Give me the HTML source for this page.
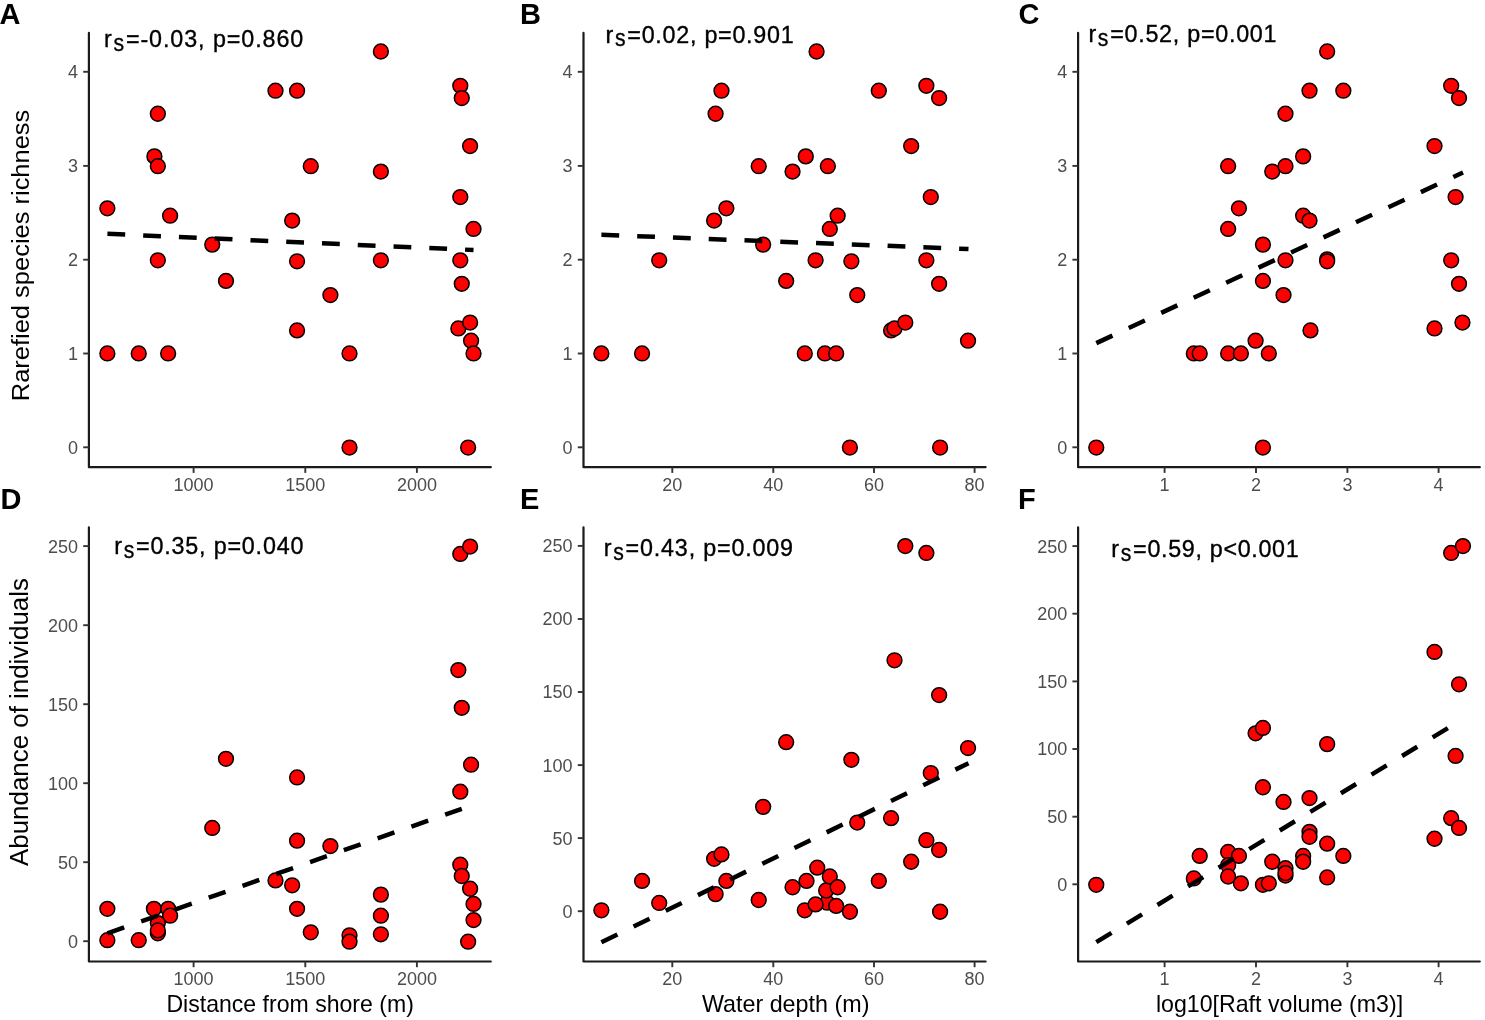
<!DOCTYPE html>
<html><head><meta charset="utf-8"><style>
html,body{margin:0;padding:0;background:#fff;}
svg{display:block;filter:blur(0.45px);}
text{font-family:"Liberation Sans",sans-serif;}
.tk{font-size:18px;fill:#4d4d4d;}
.an{font-size:23.3px;fill:#000;stroke:#000;stroke-width:0.35px;}
.at{font-size:23.4px;fill:#000;}
.pl{font-size:29px;font-weight:bold;fill:#000;}
circle{fill:#ff0000;stroke:#000;stroke-width:1.5;}
.rl{stroke:#000;stroke-width:4.5;stroke-dasharray:17.8 18;fill:none;}
</style></head><body>
<svg width="1485" height="1020" viewBox="0 0 1485 1020">
<rect width="1485" height="1020" fill="#fff"/>
<path d="M88.9 32.9V467.2H490.8" fill="none" stroke="#1a1a1a" stroke-width="2.2" stroke-linecap="round" stroke-linejoin="round"/>
<line x1="83.2" y1="447.3" x2="88.9" y2="447.3" stroke="#333" stroke-width="1.9"/>
<text x="78.0" y="453.7" text-anchor="end" class="tk">0</text>
<line x1="83.2" y1="353.5" x2="88.9" y2="353.5" stroke="#333" stroke-width="1.9"/>
<text x="78.0" y="359.9" text-anchor="end" class="tk">1</text>
<line x1="83.2" y1="259.7" x2="88.9" y2="259.7" stroke="#333" stroke-width="1.9"/>
<text x="78.0" y="266.1" text-anchor="end" class="tk">2</text>
<line x1="83.2" y1="165.9" x2="88.9" y2="165.9" stroke="#333" stroke-width="1.9"/>
<text x="78.0" y="172.3" text-anchor="end" class="tk">3</text>
<line x1="83.2" y1="71.8" x2="88.9" y2="71.8" stroke="#333" stroke-width="1.9"/>
<text x="78.0" y="78.2" text-anchor="end" class="tk">4</text>
<line x1="193.6" y1="467.2" x2="193.6" y2="472.9" stroke="#333" stroke-width="1.9"/>
<text x="193.6" y="490.8" text-anchor="middle" class="tk">1000</text>
<line x1="305.3" y1="467.2" x2="305.3" y2="472.9" stroke="#333" stroke-width="1.9"/>
<text x="305.3" y="490.8" text-anchor="middle" class="tk">1500</text>
<line x1="416.9" y1="467.2" x2="416.9" y2="472.9" stroke="#333" stroke-width="1.9"/>
<text x="416.9" y="490.8" text-anchor="middle" class="tk">2000</text>
<circle cx="107.35" cy="208.34" r="7.4"/>
<circle cx="107.35" cy="353.44" r="7.4"/>
<circle cx="138.73" cy="353.44" r="7.4"/>
<circle cx="168.14" cy="353.44" r="7.4"/>
<circle cx="157.84" cy="113.74" r="7.4"/>
<circle cx="154.41" cy="156.38" r="7.4"/>
<circle cx="157.84" cy="166.19" r="7.4"/>
<circle cx="170.1" cy="215.7" r="7.4"/>
<circle cx="157.84" cy="260.3" r="7.4"/>
<circle cx="212.25" cy="244.62" r="7.4"/>
<circle cx="225.98" cy="280.89" r="7.4"/>
<circle cx="275.49" cy="90.7" r="7.4"/>
<circle cx="297.06" cy="90.7" r="7.4"/>
<circle cx="310.78" cy="166.19" r="7.4"/>
<circle cx="292.16" cy="220.6" r="7.4"/>
<circle cx="297.06" cy="261.28" r="7.4"/>
<circle cx="297.06" cy="330.4" r="7.4"/>
<circle cx="330.39" cy="295.11" r="7.4"/>
<circle cx="349.51" cy="353.44" r="7.4"/>
<circle cx="349.51" cy="447.56" r="7.4"/>
<circle cx="380.88" cy="51.48" r="7.4"/>
<circle cx="380.88" cy="171.58" r="7.4"/>
<circle cx="380.88" cy="260.3" r="7.4"/>
<circle cx="460.29" cy="85.79" r="7.4"/>
<circle cx="461.76" cy="98.05" r="7.4"/>
<circle cx="470.1" cy="146.09" r="7.4"/>
<circle cx="460.29" cy="197.07" r="7.4"/>
<circle cx="473.53" cy="228.93" r="7.4"/>
<circle cx="460.29" cy="260.3" r="7.4"/>
<circle cx="461.76" cy="283.83" r="7.4"/>
<circle cx="458.33" cy="328.44" r="7.4"/>
<circle cx="470.1" cy="322.56" r="7.4"/>
<circle cx="471.08" cy="340.7" r="7.4"/>
<circle cx="473.53" cy="353.44" r="7.4"/>
<circle cx="468.14" cy="447.56" r="7.4"/>
<line x1="107.4" y1="233.8" x2="473.5" y2="250.0" class="rl"/>
<text x="-0.4" y="23.8" class="pl">A</text>
<text x="104.1" y="46.8" class="an">r</text>
<text x="113.5" y="50.6" class="an" textLength="10.6" lengthAdjust="spacingAndGlyphs">s</text>
<text x="125.9" y="46.8" class="an" textLength="177.40" lengthAdjust="spacing">=-0.03, p=0.860</text>
<path d="M583.5 32.9V467.2H985.6" fill="none" stroke="#1a1a1a" stroke-width="2.2" stroke-linecap="round" stroke-linejoin="round"/>
<line x1="577.8" y1="447.3" x2="583.5" y2="447.3" stroke="#333" stroke-width="1.9"/>
<text x="572.6" y="453.7" text-anchor="end" class="tk">0</text>
<line x1="577.8" y1="353.5" x2="583.5" y2="353.5" stroke="#333" stroke-width="1.9"/>
<text x="572.6" y="359.9" text-anchor="end" class="tk">1</text>
<line x1="577.8" y1="259.7" x2="583.5" y2="259.7" stroke="#333" stroke-width="1.9"/>
<text x="572.6" y="266.1" text-anchor="end" class="tk">2</text>
<line x1="577.8" y1="165.9" x2="583.5" y2="165.9" stroke="#333" stroke-width="1.9"/>
<text x="572.6" y="172.3" text-anchor="end" class="tk">3</text>
<line x1="577.8" y1="71.8" x2="583.5" y2="71.8" stroke="#333" stroke-width="1.9"/>
<text x="572.6" y="78.2" text-anchor="end" class="tk">4</text>
<line x1="672.3" y1="467.2" x2="672.3" y2="472.9" stroke="#333" stroke-width="1.9"/>
<text x="672.3" y="490.8" text-anchor="middle" class="tk">20</text>
<line x1="773.3" y1="467.2" x2="773.3" y2="472.9" stroke="#333" stroke-width="1.9"/>
<text x="773.3" y="490.8" text-anchor="middle" class="tk">40</text>
<line x1="874.0" y1="467.2" x2="874.0" y2="472.9" stroke="#333" stroke-width="1.9"/>
<text x="874.0" y="490.8" text-anchor="middle" class="tk">60</text>
<line x1="974.6" y1="467.2" x2="974.6" y2="472.9" stroke="#333" stroke-width="1.9"/>
<text x="974.6" y="490.8" text-anchor="middle" class="tk">80</text>
<circle cx="601.37" cy="353.44" r="7.4"/>
<circle cx="642.06" cy="353.44" r="7.4"/>
<circle cx="659.22" cy="260.3" r="7.4"/>
<circle cx="715.59" cy="113.74" r="7.4"/>
<circle cx="721.47" cy="90.7" r="7.4"/>
<circle cx="714.12" cy="220.6" r="7.4"/>
<circle cx="726.37" cy="208.34" r="7.4"/>
<circle cx="758.73" cy="166.19" r="7.4"/>
<circle cx="763.14" cy="244.62" r="7.4"/>
<circle cx="786.18" cy="280.89" r="7.4"/>
<circle cx="792.55" cy="171.58" r="7.4"/>
<circle cx="805.78" cy="156.38" r="7.4"/>
<circle cx="804.8" cy="353.44" r="7.4"/>
<circle cx="816.57" cy="51.48" r="7.4"/>
<circle cx="815.59" cy="260.3" r="7.4"/>
<circle cx="827.84" cy="166.19" r="7.4"/>
<circle cx="829.8" cy="228.93" r="7.4"/>
<circle cx="837.65" cy="215.7" r="7.4"/>
<circle cx="824.9" cy="353.44" r="7.4"/>
<circle cx="836.18" cy="353.44" r="7.4"/>
<circle cx="849.9" cy="447.56" r="7.4"/>
<circle cx="851.37" cy="261.28" r="7.4"/>
<circle cx="857.25" cy="295.11" r="7.4"/>
<circle cx="878.82" cy="90.7" r="7.4"/>
<circle cx="891.08" cy="330.4" r="7.4"/>
<circle cx="894.51" cy="328.44" r="7.4"/>
<circle cx="905.29" cy="322.56" r="7.4"/>
<circle cx="911.18" cy="146.09" r="7.4"/>
<circle cx="926.37" cy="85.79" r="7.4"/>
<circle cx="939.12" cy="98.05" r="7.4"/>
<circle cx="930.78" cy="197.07" r="7.4"/>
<circle cx="926.37" cy="260.3" r="7.4"/>
<circle cx="939.12" cy="283.83" r="7.4"/>
<circle cx="940.1" cy="447.56" r="7.4"/>
<circle cx="968.04" cy="340.7" r="7.4"/>
<line x1="601.4" y1="234.8" x2="968.5" y2="249.0" class="rl"/>
<text x="520.0" y="23.8" class="pl">B</text>
<text x="605.5" y="42.5" class="an">r</text>
<text x="614.9" y="46.3" class="an" textLength="10.6" lengthAdjust="spacingAndGlyphs">s</text>
<text x="627.3" y="42.5" class="an" textLength="166.40" lengthAdjust="spacing">=0.02, p=0.901</text>
<path d="M1078.1 32.9V467.2H1479.8" fill="none" stroke="#1a1a1a" stroke-width="2.2" stroke-linecap="round" stroke-linejoin="round"/>
<line x1="1072.4" y1="447.3" x2="1078.1" y2="447.3" stroke="#333" stroke-width="1.9"/>
<text x="1067.2" y="453.7" text-anchor="end" class="tk">0</text>
<line x1="1072.4" y1="353.5" x2="1078.1" y2="353.5" stroke="#333" stroke-width="1.9"/>
<text x="1067.2" y="359.9" text-anchor="end" class="tk">1</text>
<line x1="1072.4" y1="259.7" x2="1078.1" y2="259.7" stroke="#333" stroke-width="1.9"/>
<text x="1067.2" y="266.1" text-anchor="end" class="tk">2</text>
<line x1="1072.4" y1="165.9" x2="1078.1" y2="165.9" stroke="#333" stroke-width="1.9"/>
<text x="1067.2" y="172.3" text-anchor="end" class="tk">3</text>
<line x1="1072.4" y1="71.8" x2="1078.1" y2="71.8" stroke="#333" stroke-width="1.9"/>
<text x="1067.2" y="78.2" text-anchor="end" class="tk">4</text>
<line x1="1164.6" y1="467.2" x2="1164.6" y2="472.9" stroke="#333" stroke-width="1.9"/>
<text x="1164.6" y="490.8" text-anchor="middle" class="tk">1</text>
<line x1="1256.0" y1="467.2" x2="1256.0" y2="472.9" stroke="#333" stroke-width="1.9"/>
<text x="1256.0" y="490.8" text-anchor="middle" class="tk">2</text>
<line x1="1347.4" y1="467.2" x2="1347.4" y2="472.9" stroke="#333" stroke-width="1.9"/>
<text x="1347.4" y="490.8" text-anchor="middle" class="tk">3</text>
<line x1="1438.6" y1="467.2" x2="1438.6" y2="472.9" stroke="#333" stroke-width="1.9"/>
<text x="1438.6" y="490.8" text-anchor="middle" class="tk">4</text>
<circle cx="1096.27" cy="447.56" r="7.4"/>
<circle cx="1193.82" cy="353.44" r="7.4"/>
<circle cx="1199.71" cy="353.44" r="7.4"/>
<circle cx="1228.14" cy="353.44" r="7.4"/>
<circle cx="1240.88" cy="353.44" r="7.4"/>
<circle cx="1268.82" cy="353.44" r="7.4"/>
<circle cx="1255.59" cy="340.7" r="7.4"/>
<circle cx="1228.14" cy="166.19" r="7.4"/>
<circle cx="1238.92" cy="208.34" r="7.4"/>
<circle cx="1228.14" cy="228.93" r="7.4"/>
<circle cx="1262.94" cy="244.62" r="7.4"/>
<circle cx="1262.94" cy="280.89" r="7.4"/>
<circle cx="1262.94" cy="447.56" r="7.4"/>
<circle cx="1272.25" cy="171.58" r="7.4"/>
<circle cx="1285.49" cy="113.74" r="7.4"/>
<circle cx="1285.49" cy="166.19" r="7.4"/>
<circle cx="1285.49" cy="260.3" r="7.4"/>
<circle cx="1283.53" cy="295.11" r="7.4"/>
<circle cx="1303.14" cy="156.38" r="7.4"/>
<circle cx="1303.14" cy="215.7" r="7.4"/>
<circle cx="1309.51" cy="220.6" r="7.4"/>
<circle cx="1309.51" cy="90.7" r="7.4"/>
<circle cx="1310.49" cy="330.4" r="7.4"/>
<circle cx="1327.16" cy="51.48" r="7.4"/>
<circle cx="1327.16" cy="259.32" r="7.4"/>
<circle cx="1327.16" cy="261.28" r="7.4"/>
<circle cx="1343.33" cy="90.7" r="7.4"/>
<circle cx="1434.51" cy="146.09" r="7.4"/>
<circle cx="1434.51" cy="328.44" r="7.4"/>
<circle cx="1451.18" cy="85.79" r="7.4"/>
<circle cx="1459.02" cy="98.05" r="7.4"/>
<circle cx="1455.59" cy="197.07" r="7.4"/>
<circle cx="1451.18" cy="260.3" r="7.4"/>
<circle cx="1459.02" cy="283.83" r="7.4"/>
<circle cx="1462.45" cy="322.56" r="7.4"/>
<line x1="1096.3" y1="343.1" x2="1463.0" y2="172.5" class="rl"/>
<text x="1018.4" y="23.8" class="pl">C</text>
<text x="1088.4" y="42.0" class="an">r</text>
<text x="1097.8" y="45.8" class="an" textLength="10.6" lengthAdjust="spacingAndGlyphs">s</text>
<text x="1110.2" y="42.0" class="an" textLength="166.30" lengthAdjust="spacing">=0.52, p=0.001</text>
<path d="M88.9 527.4V961.5H490.8" fill="none" stroke="#1a1a1a" stroke-width="2.2" stroke-linecap="round" stroke-linejoin="round"/>
<line x1="83.2" y1="941.2" x2="88.9" y2="941.2" stroke="#333" stroke-width="1.9"/>
<text x="78.0" y="947.6" text-anchor="end" class="tk">0</text>
<line x1="83.2" y1="862.2" x2="88.9" y2="862.2" stroke="#333" stroke-width="1.9"/>
<text x="78.0" y="868.6" text-anchor="end" class="tk">50</text>
<line x1="83.2" y1="783.2" x2="88.9" y2="783.2" stroke="#333" stroke-width="1.9"/>
<text x="78.0" y="789.6" text-anchor="end" class="tk">100</text>
<line x1="83.2" y1="704.2" x2="88.9" y2="704.2" stroke="#333" stroke-width="1.9"/>
<text x="78.0" y="710.6" text-anchor="end" class="tk">150</text>
<line x1="83.2" y1="625.2" x2="88.9" y2="625.2" stroke="#333" stroke-width="1.9"/>
<text x="78.0" y="631.6" text-anchor="end" class="tk">200</text>
<line x1="83.2" y1="546.1" x2="88.9" y2="546.1" stroke="#333" stroke-width="1.9"/>
<text x="78.0" y="552.5" text-anchor="end" class="tk">250</text>
<line x1="193.6" y1="961.5" x2="193.6" y2="967.2" stroke="#333" stroke-width="1.9"/>
<text x="193.6" y="985.1" text-anchor="middle" class="tk">1000</text>
<line x1="305.3" y1="961.5" x2="305.3" y2="967.2" stroke="#333" stroke-width="1.9"/>
<text x="305.3" y="985.1" text-anchor="middle" class="tk">1500</text>
<line x1="416.9" y1="961.5" x2="416.9" y2="967.2" stroke="#333" stroke-width="1.9"/>
<text x="416.9" y="985.1" text-anchor="middle" class="tk">2000</text>
<circle cx="107.35" cy="908.83" r="7.4"/>
<circle cx="107.35" cy="940.21" r="7.4"/>
<circle cx="138.73" cy="940.21" r="7.4"/>
<circle cx="153.92" cy="908.83" r="7.4"/>
<circle cx="168.14" cy="908.83" r="7.4"/>
<circle cx="170.1" cy="915.7" r="7.4"/>
<circle cx="157.84" cy="923.05" r="7.4"/>
<circle cx="157.84" cy="933.34" r="7.4"/>
<circle cx="157.84" cy="930.4" r="7.4"/>
<circle cx="212.25" cy="827.95" r="7.4"/>
<circle cx="225.98" cy="758.83" r="7.4"/>
<circle cx="275.49" cy="880.4" r="7.4"/>
<circle cx="292.16" cy="885.3" r="7.4"/>
<circle cx="297.06" cy="777.46" r="7.4"/>
<circle cx="297.06" cy="840.7" r="7.4"/>
<circle cx="297.06" cy="908.83" r="7.4"/>
<circle cx="310.78" cy="932.36" r="7.4"/>
<circle cx="330.39" cy="846.09" r="7.4"/>
<circle cx="349.51" cy="935.3" r="7.4"/>
<circle cx="349.51" cy="941.68" r="7.4"/>
<circle cx="380.88" cy="894.62" r="7.4"/>
<circle cx="380.88" cy="915.7" r="7.4"/>
<circle cx="380.88" cy="934.32" r="7.4"/>
<circle cx="460.29" cy="553.93" r="7.4"/>
<circle cx="470.1" cy="546.58" r="7.4"/>
<circle cx="458.33" cy="670.11" r="7.4"/>
<circle cx="461.76" cy="707.85" r="7.4"/>
<circle cx="471.08" cy="764.72" r="7.4"/>
<circle cx="460.29" cy="791.68" r="7.4"/>
<circle cx="460.29" cy="864.72" r="7.4"/>
<circle cx="461.76" cy="875.99" r="7.4"/>
<circle cx="470.1" cy="888.74" r="7.4"/>
<circle cx="473.53" cy="903.93" r="7.4"/>
<circle cx="473.53" cy="920.11" r="7.4"/>
<circle cx="468.14" cy="941.68" r="7.4"/>
<line x1="107.4" y1="933.3" x2="461.8" y2="808.8" class="rl"/>
<text x="0.4" y="508.9" class="pl">D</text>
<text x="114.3" y="554.1" class="an">r</text>
<text x="123.7" y="557.9" class="an" textLength="10.6" lengthAdjust="spacingAndGlyphs">s</text>
<text x="136.1" y="554.1" class="an" textLength="167.30" lengthAdjust="spacing">=0.35, p=0.040</text>
<path d="M583.5 527.4V961.5H985.6" fill="none" stroke="#1a1a1a" stroke-width="2.2" stroke-linecap="round" stroke-linejoin="round"/>
<line x1="577.8" y1="911.2" x2="583.5" y2="911.2" stroke="#333" stroke-width="1.9"/>
<text x="572.6" y="917.6" text-anchor="end" class="tk">0</text>
<line x1="577.8" y1="838.1" x2="583.5" y2="838.1" stroke="#333" stroke-width="1.9"/>
<text x="572.6" y="844.5" text-anchor="end" class="tk">50</text>
<line x1="577.8" y1="765.1" x2="583.5" y2="765.1" stroke="#333" stroke-width="1.9"/>
<text x="572.6" y="771.5" text-anchor="end" class="tk">100</text>
<line x1="577.8" y1="692.0" x2="583.5" y2="692.0" stroke="#333" stroke-width="1.9"/>
<text x="572.6" y="698.4" text-anchor="end" class="tk">150</text>
<line x1="577.8" y1="619.0" x2="583.5" y2="619.0" stroke="#333" stroke-width="1.9"/>
<text x="572.6" y="625.4" text-anchor="end" class="tk">200</text>
<line x1="577.8" y1="545.9" x2="583.5" y2="545.9" stroke="#333" stroke-width="1.9"/>
<text x="572.6" y="552.3" text-anchor="end" class="tk">250</text>
<line x1="672.3" y1="961.5" x2="672.3" y2="967.2" stroke="#333" stroke-width="1.9"/>
<text x="672.3" y="985.1" text-anchor="middle" class="tk">20</text>
<line x1="773.3" y1="961.5" x2="773.3" y2="967.2" stroke="#333" stroke-width="1.9"/>
<text x="773.3" y="985.1" text-anchor="middle" class="tk">40</text>
<line x1="874.0" y1="961.5" x2="874.0" y2="967.2" stroke="#333" stroke-width="1.9"/>
<text x="874.0" y="985.1" text-anchor="middle" class="tk">60</text>
<line x1="974.6" y1="961.5" x2="974.6" y2="967.2" stroke="#333" stroke-width="1.9"/>
<text x="974.6" y="985.1" text-anchor="middle" class="tk">80</text>
<circle cx="601.37" cy="910.3" r="7.4"/>
<circle cx="642.06" cy="880.89" r="7.4"/>
<circle cx="659.22" cy="902.95" r="7.4"/>
<circle cx="714.12" cy="858.83" r="7.4"/>
<circle cx="721.47" cy="854.42" r="7.4"/>
<circle cx="715.59" cy="894.13" r="7.4"/>
<circle cx="726.37" cy="880.89" r="7.4"/>
<circle cx="758.73" cy="900.01" r="7.4"/>
<circle cx="763.14" cy="806.87" r="7.4"/>
<circle cx="786.18" cy="742.17" r="7.4"/>
<circle cx="792.55" cy="887.26" r="7.4"/>
<circle cx="806.52" cy="880.89" r="7.4"/>
<circle cx="804.8" cy="910.3" r="7.4"/>
<circle cx="817.25" cy="867.66" r="7.4"/>
<circle cx="827.11" cy="902.71" r="7.4"/>
<circle cx="815.59" cy="904.42" r="7.4"/>
<circle cx="826.13" cy="890.5" r="7.4"/>
<circle cx="829.8" cy="876.48" r="7.4"/>
<circle cx="837.65" cy="887.26" r="7.4"/>
<circle cx="836.18" cy="905.89" r="7.4"/>
<circle cx="849.9" cy="911.77" r="7.4"/>
<circle cx="851.37" cy="759.81" r="7.4"/>
<circle cx="857.25" cy="822.56" r="7.4"/>
<circle cx="878.82" cy="880.89" r="7.4"/>
<circle cx="891.08" cy="818.15" r="7.4"/>
<circle cx="894.51" cy="660.3" r="7.4"/>
<circle cx="905.29" cy="546.09" r="7.4"/>
<circle cx="911.18" cy="861.77" r="7.4"/>
<circle cx="926.37" cy="552.95" r="7.4"/>
<circle cx="926.37" cy="840.21" r="7.4"/>
<circle cx="930.78" cy="773.05" r="7.4"/>
<circle cx="939.12" cy="695.11" r="7.4"/>
<circle cx="939.12" cy="850.01" r="7.4"/>
<circle cx="940.1" cy="911.77" r="7.4"/>
<circle cx="968.04" cy="748.05" r="7.4"/>
<line x1="601.4" y1="942.2" x2="968.5" y2="763.2" class="rl"/>
<text x="520.0" y="508.9" class="pl">E</text>
<text x="603.8" y="556.4" class="an">r</text>
<text x="613.2" y="560.2" class="an" textLength="10.6" lengthAdjust="spacingAndGlyphs">s</text>
<text x="625.6" y="556.4" class="an" textLength="167.40" lengthAdjust="spacing">=0.43, p=0.009</text>
<path d="M1078.1 527.4V961.5H1479.8" fill="none" stroke="#1a1a1a" stroke-width="2.2" stroke-linecap="round" stroke-linejoin="round"/>
<line x1="1072.4" y1="884.3" x2="1078.1" y2="884.3" stroke="#333" stroke-width="1.9"/>
<text x="1067.2" y="890.7" text-anchor="end" class="tk">0</text>
<line x1="1072.4" y1="816.7" x2="1078.1" y2="816.7" stroke="#333" stroke-width="1.9"/>
<text x="1067.2" y="823.1" text-anchor="end" class="tk">50</text>
<line x1="1072.4" y1="749.0" x2="1078.1" y2="749.0" stroke="#333" stroke-width="1.9"/>
<text x="1067.2" y="755.4" text-anchor="end" class="tk">100</text>
<line x1="1072.4" y1="681.4" x2="1078.1" y2="681.4" stroke="#333" stroke-width="1.9"/>
<text x="1067.2" y="687.8" text-anchor="end" class="tk">150</text>
<line x1="1072.4" y1="613.7" x2="1078.1" y2="613.7" stroke="#333" stroke-width="1.9"/>
<text x="1067.2" y="620.1" text-anchor="end" class="tk">200</text>
<line x1="1072.4" y1="546.1" x2="1078.1" y2="546.1" stroke="#333" stroke-width="1.9"/>
<text x="1067.2" y="552.5" text-anchor="end" class="tk">250</text>
<line x1="1164.6" y1="961.5" x2="1164.6" y2="967.2" stroke="#333" stroke-width="1.9"/>
<text x="1164.6" y="985.1" text-anchor="middle" class="tk">1</text>
<line x1="1256.0" y1="961.5" x2="1256.0" y2="967.2" stroke="#333" stroke-width="1.9"/>
<text x="1256.0" y="985.1" text-anchor="middle" class="tk">2</text>
<line x1="1347.4" y1="961.5" x2="1347.4" y2="967.2" stroke="#333" stroke-width="1.9"/>
<text x="1347.4" y="985.1" text-anchor="middle" class="tk">3</text>
<line x1="1438.6" y1="961.5" x2="1438.6" y2="967.2" stroke="#333" stroke-width="1.9"/>
<text x="1438.6" y="985.1" text-anchor="middle" class="tk">4</text>
<circle cx="1096.27" cy="884.81" r="7.4"/>
<circle cx="1193.82" cy="878.44" r="7.4"/>
<circle cx="1199.71" cy="855.89" r="7.4"/>
<circle cx="1228.14" cy="851.97" r="7.4"/>
<circle cx="1228.14" cy="865.21" r="7.4"/>
<circle cx="1228.14" cy="876.48" r="7.4"/>
<circle cx="1238.92" cy="855.89" r="7.4"/>
<circle cx="1240.88" cy="883.34" r="7.4"/>
<circle cx="1255.59" cy="733.34" r="7.4"/>
<circle cx="1262.94" cy="727.95" r="7.4"/>
<circle cx="1262.94" cy="787.26" r="7.4"/>
<circle cx="1262.94" cy="884.81" r="7.4"/>
<circle cx="1268.82" cy="883.34" r="7.4"/>
<circle cx="1272.25" cy="861.77" r="7.4"/>
<circle cx="1283.53" cy="801.97" r="7.4"/>
<circle cx="1285.49" cy="868.15" r="7.4"/>
<circle cx="1285.49" cy="875.5" r="7.4"/>
<circle cx="1285.49" cy="873.05" r="7.4"/>
<circle cx="1303.14" cy="855.89" r="7.4"/>
<circle cx="1303.14" cy="861.77" r="7.4"/>
<circle cx="1309.51" cy="798.05" r="7.4"/>
<circle cx="1309.51" cy="831.87" r="7.4"/>
<circle cx="1309.51" cy="836.77" r="7.4"/>
<circle cx="1327.16" cy="744.13" r="7.4"/>
<circle cx="1327.16" cy="843.64" r="7.4"/>
<circle cx="1327.16" cy="877.46" r="7.4"/>
<circle cx="1343.33" cy="855.89" r="7.4"/>
<circle cx="1434.51" cy="651.97" r="7.4"/>
<circle cx="1434.51" cy="838.74" r="7.4"/>
<circle cx="1451.18" cy="552.95" r="7.4"/>
<circle cx="1462.94" cy="546.09" r="7.4"/>
<circle cx="1459.02" cy="684.32" r="7.4"/>
<circle cx="1455.59" cy="755.89" r="7.4"/>
<circle cx="1451.18" cy="818.15" r="7.4"/>
<circle cx="1459.02" cy="827.95" r="7.4"/>
<line x1="1096.3" y1="942.2" x2="1448.2" y2="727.9" class="rl"/>
<text x="1018.0" y="508.9" class="pl">F</text>
<text x="1111.3" y="557.4" class="an">r</text>
<text x="1120.7" y="561.2" class="an" textLength="10.6" lengthAdjust="spacingAndGlyphs">s</text>
<text x="1133.1" y="557.4" class="an" textLength="165.60" lengthAdjust="spacing">=0.59, p&lt;0.001</text>
<text x="166.4" y="1011.5" class="at" textLength="247.5" lengthAdjust="spacingAndGlyphs">Distance from shore (m)</text>
<text x="701.9" y="1011.5" class="at" textLength="167.51" lengthAdjust="spacingAndGlyphs">Water depth (m)</text>
<text x="1155.9" y="1011.5" class="at" textLength="247.2" lengthAdjust="spacingAndGlyphs">log10[Raft volume (m3)]</text>
<text transform="translate(29.2 401.2) rotate(-90)" class="at" style="font-size:24.4px" textLength="291.5" lengthAdjust="spacingAndGlyphs">Rarefied species richness</text>
<text transform="translate(28.1 866) rotate(-90)" class="at" style="font-size:25px" textLength="287.98" lengthAdjust="spacingAndGlyphs">Abundance of individuals</text>
</svg>
</body></html>
